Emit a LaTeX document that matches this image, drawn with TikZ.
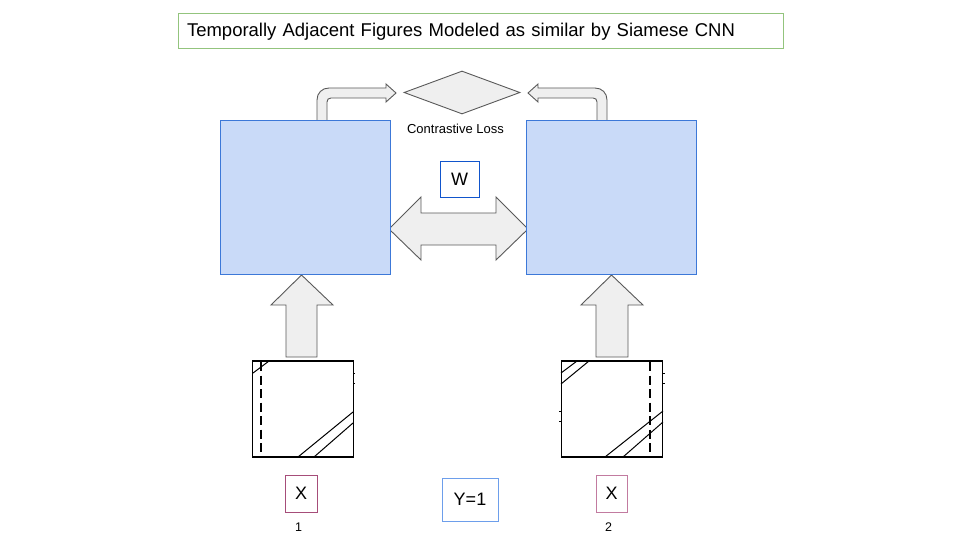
\documentclass[tikz,border=0pt]{standalone}
\usepackage{fontspec}
\setmainfont{Liberation Sans}
\usetikzlibrary{shapes.geometric,calc}

\definecolor{cnnfill}{HTML}{C9DAF8}
\definecolor{cnnline}{HTML}{3C78D8}
\definecolor{arrowfill}{HTML}{EFEFEF}
\definecolor{arrowline}{HTML}{595959}
\definecolor{titleline}{HTML}{93C47D}
\definecolor{wline}{HTML}{1155CC}
\definecolor{yline}{HTML}{6D9EEB}
\definecolor{xlineL}{HTML}{A64D79}
\definecolor{xlineR}{HTML}{C27BA0}

\begin{document}
\begin{tikzpicture}[x=1pt,y=-1pt]
\tikzset{cnn/.style = {draw=cnnline, fill=cnnfill, line width=1pt, minimum width=170pt, minimum height=153pt, inner sep=0pt}}
\tikzset{frame/.style = {draw=black, line width=1.6pt, minimum width=101pt, minimum height=96pt, inner sep=0pt}}
\tikzset{blockarrow/.style = {draw=arrowline, fill=arrowfill, line width=0.9pt, line join=miter}}
\tikzset{tag/.style = {line width=1pt, inner sep=0pt, font=\fontsize{18}{18}\selectfont}}
\tikzset{small/.style = {font=\fontsize{12.5}{12.5}\selectfont}}
\useasboundingbox (0,0) rectangle (960,540);
% title
\node[draw=titleline, line width=1pt, minimum height=35pt, text width=587pt, inner xsep=9pt, align=left,
      font=\fontsize{18.5}{18.5}\selectfont] (title) at (480.5,31.5) {Temporally Adjacent Figures Modeled as similar by Siamese CNN};
% arrows
\draw[blockarrow] (317,121) -- (317,100) .. controls (317,93) and (322,88) .. (329,88) -- (386,88) -- (386,84)
  -- (396,93) -- (386,102) -- (386,98) -- (331,98) .. controls (328.5,98) and (327,99.5) .. (327,102) -- (327,121) -- cycle;
\draw[blockarrow] (607,121) -- (607,100) .. controls (607,93) and (602,88) .. (595,88) -- (538,88) -- (538,84)
  -- (528,93) -- (538,102) -- (538,98) -- (593,98) .. controls (595.5,98) and (597,99.5) .. (597,102) -- (597,121) -- cycle;
\draw[blockarrow] (389,229) -- (421,197) -- (421,213) -- (496,213) -- (496,197) -- (528,229)
  -- (496,260) -- (496,245) -- (421,245) -- (421,260) -- cycle;
\draw[blockarrow] (286,357) -- (286,305) -- (271,305) -- (301.5,275) -- (333,305) -- (317,305) -- (317,357) -- cycle;
\draw[blockarrow] (596,357) -- (596,305) -- (581,305) -- (611.5,275) -- (643,305) -- (628,305) -- (628,357) -- cycle;
% networks
\node[cnn] (cnnL) at (305.5,197.5) {};
\node[cnn] (cnnR) at (611.5,197.5) {};
\node[diamond, draw=arrowline, fill=arrowfill, line width=0.9pt, minimum width=116pt, minimum height=43pt, inner sep=0pt] (loss) at (462,92.5) {};
\node[font=\fontsize{13}{13}\selectfont] (losslab) at (455.5,129) {Contrastive Loss};
\node[tag, draw=wline, minimum width=39pt, minimum height=35pt] (w) at (459.5,179.5) {W};
% frames
\node[frame] (imgL) at (303,409) {};
\node[frame] (imgR) at (612,409) {};
\draw[line width=2.6pt, dash pattern=on 9pt off 4.5pt] (261,362) -- (261,457);
\draw[line width=1pt] (253,373) -- (269,361);
\draw[line width=1pt] (298,457) -- (353,412);
\draw[line width=1pt] (314,457) -- (353,423);
\draw[line width=1pt] (353,373) -- (355,373) (353,383) -- (355,383);
\draw[line width=2.6pt, dash pattern=on 9pt off 4.5pt] (650,362) -- (650,457);
\draw[line width=1pt] (561,373) -- (577,361);
\draw[line width=1pt] (561,384) -- (589,361);
\draw[line width=1pt] (605,457) -- (663,411);
\draw[line width=1pt] (623,457) -- (663,422);
\draw[line width=1pt] (663,373) -- (665,373) (663,383) -- (665,383);
\draw[line width=1pt] (559,411) -- (561,411) (559,421) -- (561,421);
% inputs
\node[tag, draw=xlineL, minimum width=32pt, minimum height=37pt] (xL) at (301,493.5) {X};
\node[tag, draw=xlineR, minimum width=31pt, minimum height=37pt] (xR) at (611.5,493.5) {X};
\node[small] (oneL) at (298.5,527) {1};
\node[small] (twoR) at (608.5,527) {2};
\node[tag, draw=yline, minimum width=56pt, minimum height=43pt] (y) at (470,499.5) {Y=1};
\end{tikzpicture}
\end{document}
